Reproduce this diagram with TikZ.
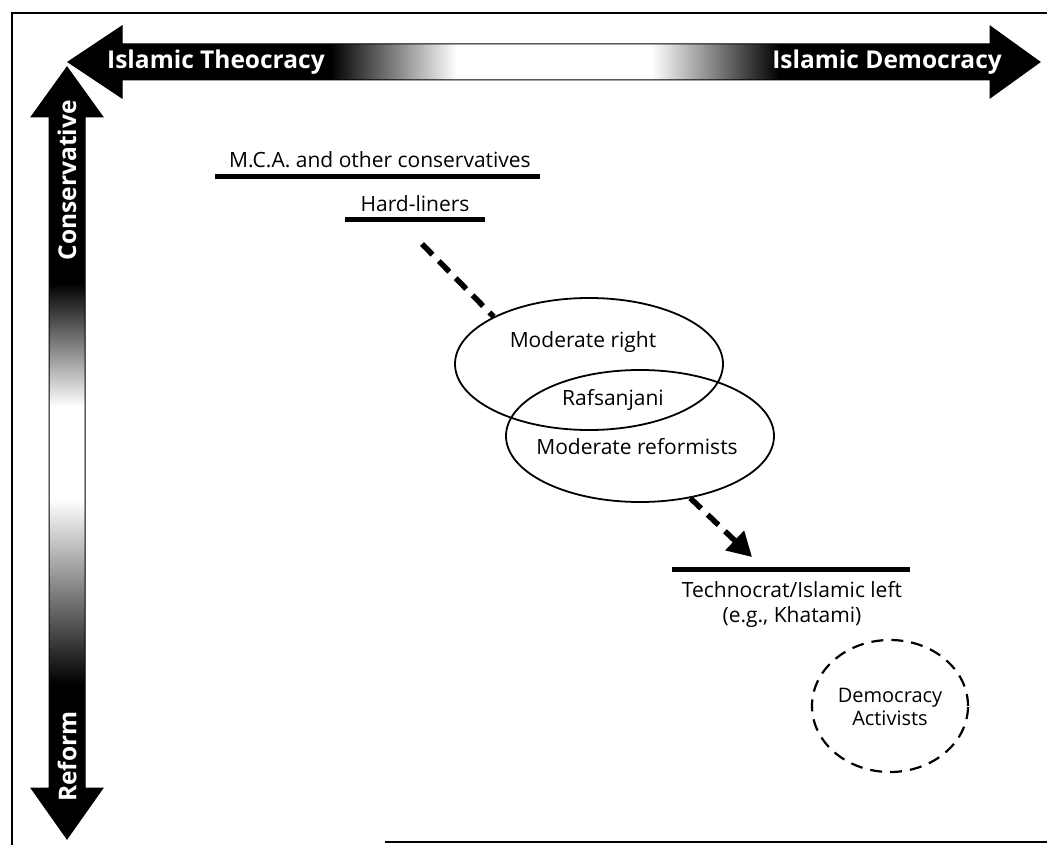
\documentclass[tikz,border=0pt]{standalone}
\usepackage{fontspec}
\setmainfont{Open Sans}
\usetikzlibrary{shapes.geometric,arrows.meta}

\pgfdeclarehorizontalshading{theoshade}{100bp}{color(0bp)=(black); color(38.5bp)=(black); color(45bp)=(white); color(55bp)=(white); color(61.6bp)=(black); color(100bp)=(black)}
\pgfdeclareverticalshading{reformshade}{100bp}{color(0bp)=(black); color(35bp)=(black); color(47bp)=(white); color(53bp)=(white); color(61bp)=(black); color(100bp)=(black)}

\tikzset{
    axislabel/.style={text=white, font=\bfseries\fontsize{24.5}{26}\selectfont, inner sep=0pt},
    grouplabel/.style={font=\fontsize{21}{25}\selectfont, align=center, inner sep=0pt},
    groupbar/.style={line width=5pt},
    groupring/.style={draw, ellipse, line width=1.8pt, minimum width=268pt, minimum height=132pt, inner sep=0pt},
    trendline/.style={line width=5.5pt, dash pattern=on 15pt off 9pt},
}

\begin{document}
\begin{tikzpicture}[x=1pt, y=-1pt]
        \useasboundingbox (0,0) rectangle (1047,845);

        % frame
        \draw[line width=2.5pt] (1047,13) -- (12,13) -- (12,845);
        \draw[line width=2.5pt] (385,842) -- (1047,842);

        % axes
        \shadedraw[shading=theoshade, shading angle=0, line width=1pt] (68,62) -- (122,26) -- (122,44) -- (990,44) -- (990,26) -- (1040,62) -- (990,98) -- (990,80) -- (122,80) -- (122,98) -- cycle;
        \shadedraw[shading=reformshade, shading angle=0, line width=1pt] (67,67) -- (103,117) -- (85,117) -- (85,788) -- (103,788) -- (67,839) -- (31,788) -- (49,788) -- (49,117) -- (31,117) -- cycle;

        \node[axislabel, anchor=west] (theocracy) at (107,62) {Islamic Theocracy};
        \node[axislabel, anchor=east] (democracy) at (1002,62) {Islamic Democracy};
        \node[axislabel, rotate=90, anchor=east] (conservative) at (67,100) {Conservative};
        \node[axislabel, rotate=90, anchor=west] (reform) at (67,802) {Reform};

        % conservatives
        \node[grouplabel] (mca) at (380,160) {M.C.A. and other conservatives};
        \draw[groupbar] (215,177) -- (540,177);
        \node[grouplabel] (hardliners) at (415,204) {Hard-liners};
        \draw[groupbar] (345,220) -- (485,220);
        \coordinate (hardtail) at (422,244);

        % moderates
        \node[groupring] (rightring) at (589,364) {};
        \node[groupring] (reformring) at (640,436) {};
        \node[grouplabel] (modright) at (583,342) {Moderate right};
        \node[grouplabel] (rafsanjani) at (613,400) {Rafsanjani};
        \node[grouplabel] (modreform) at (637,447) {Moderate reformists};

        \draw[trendline] (hardtail) -- (rightring.north west);
        \coordinate (lefttip) at (752,557);
        \draw[trendline, -{Triangle[length=24pt,width=26pt]}] (reformring.-51) -- (lefttip);

        % reformers
        \draw[groupbar] (672,569) -- (910,569);
        \node[grouplabel] (technocrat) at (792,604) {Technocrat/Islamic left\\(e.g., Khatami)};

        \node[draw, ellipse, line width=2.2pt, dash pattern=on 12pt off 8pt, minimum width=156pt, minimum height=132pt] (activistring) at (890,706) {};
        \node[grouplabel, font=\fontsize{20}{23}\selectfont] (activists) at (890,707) {Democracy\\Activists};

    \end{tikzpicture}
\end{document}
